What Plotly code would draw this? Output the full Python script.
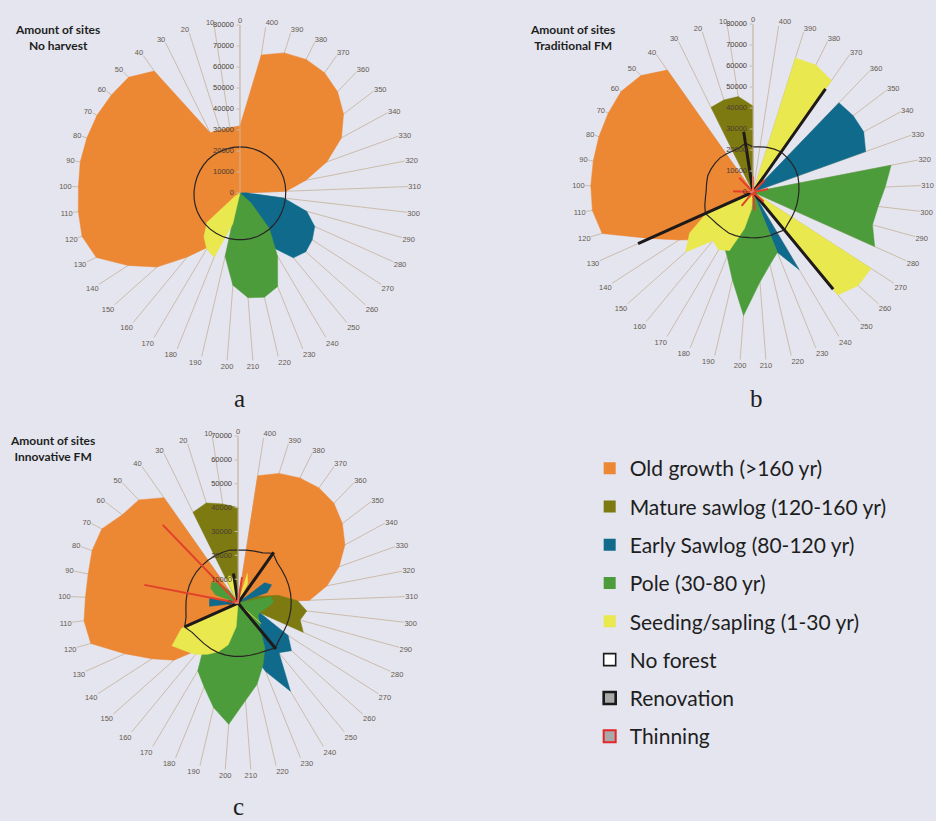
import plotly.graph_objects as go

# Age classes (years) on the angular axis
AGES = ["0", "10", "20", "30", "40", "50", "60", "70", "80", "90",
        "100", "110", "120", "130", "140", "150", "160", "170", "180", "190",
        "200", "210", "220", "230", "240", "250", "260", "270", "280", "290",
        "300", "310", "320", "330", "340", "350", "360", "370", "380", "390",
        "400"]

# ---------------- a: No harvest ----------------
old_a = [32000, 31500, 31500, 32000, 71000, 76500, 77000, 77500, 77500, 77500,
         77000, 77500, 78000, 75000, 63500, 53000, 39500, 30000, 20000, 10000,
         0, 0, 0, 0, 0, 0, 0, 0, 0, 0,
         0, 22000, 32000, 44000, 55000, 62000, 67000, 70000, 71000, 70000,
         66500]
mature_a = [0, 0, 0, 0, 0, 0, 0, 0, 0, 0,
            0, 0, 0, 0, 0, 0, 0, 0, 0, 0,
            0, 0, 0, 0, 0, 0, 0, 0, 0, 0,
            0, 0, 0, 0, 0, 0, 0, 0, 0, 0,
            0]
early_a = [0, 0, 0, 0, 0, 0, 0, 0, 0, 0,
           0, 0, 0, 0, 0, 0, 0, 0, 0, 0,
           0, 0, 0, 15000, 30000, 40000, 42000, 41000, 39000, 33000,
           21000, 3000, 0, 0, 0, 0, 0, 0, 0, 0,
           0]
pole_a = [0, 0, 0, 0, 0, 0, 0, 0, 0, 0,
          0, 0, 0, 0, 0, 0, 0, 0, 3000, 31000,
          44000, 50000, 51000, 48000, 35000, 22000, 7000, 0, 0, 0,
          0, 0, 0, 0, 0, 0, 0, 0, 0, 0,
          0]
seed_a = [0, 0, 0, 0, 0, 0, 0, 0, 0, 0,
          0, 0, 0, 0, 3000, 21000, 27000, 31000, 33000, 15000,
          0, 0, 0, 0, 0, 0, 0, 0, 0, 0,
          0, 0, 0, 0, 0, 0, 0, 0, 0, 0,
          0]
noforest_a = [22000, 22000, 21900, 21900, 22000, 22000, 21900, 21800, 21800, 21800,
              21900, 22000, 22100, 22200, 22200, 22300, 22300, 22300, 22300, 22300,
              22300, 22300, 22300, 22300, 22200, 22200, 22100, 22000, 21900, 21800,
              21800, 21800, 21900, 22000, 22000, 22000, 22000, 22000, 22000, 22000,
              22000]
renov_a = [0, 0, 0, 0, 0, 0, 0, 0, 0, 0,
           0, 0, 0, 0, 0, 0, 0, 0, 0, 0,
           0, 0, 0, 0, 0, 0, 0, 0, 0, 0,
           0, 0, 0, 0, 0, 0, 0, 0, 0, 0,
           0]
thin_a = [0, 0, 0, 0, 0, 0, 0, 0, 0, 0,
          0, 0, 0, 0, 0, 0, 0, 0, 0, 0,
          0, 0, 0, 0, 0, 0, 0, 0, 0, 0,
          0, 0, 0, 0, 0, 0, 0, 0, 0, 0,
          0]

# ---------------- b: Traditional FM ----------------
old_b = [0, 0, 0, 0, 71000, 77000, 79000, 78500, 78000, 77500,
         77300, 77000, 74500, 54000, 42000, 34000, 25000, 15000, 0, 0,
         0, 0, 0, 0, 0, 0, 0, 0, 0, 0,
         0, 0, 0, 0, 0, 0, 0, 0, 0, 0,
         0]
mature_b = [41000, 46000, 46000, 45000, 0, 0, 0, 0, 0, 0,
            0, 0, 0, 0, 0, 0, 0, 0, 0, 0,
            0, 0, 0, 0, 0, 0, 0, 0, 0, 0,
            0, 0, 0, 0, 0, 0, 0, 0, 0, 0,
            0]
early_b = [0, 0, 0, 0, 0, 0, 0, 0, 0, 0,
           0, 0, 0, 0, 0, 0, 0, 0, 0, 0,
           0, 0, 0, 31000, 43000, 0, 0, 0, 0, 0,
           0, 0, 0, 57000, 60000, 60000, 59000, 0, 0, 0,
           0]
pole_b = [0, 0, 0, 0, 0, 0, 0, 0, 0, 0,
          0, 0, 0, 0, 0, 0, 20000, 28000, 33000, 43000,
          59000, 43000, 35500, 31000, 0, 0, 0, 0, 63500, 59000,
          60000, 63000, 67000, 0, 0, 0, 0, 0, 0, 0,
          0]
seed_b = [0, 0, 0, 0, 0, 0, 0, 0, 0, 0,
          0, 0, 0, 24000, 36000, 43000, 30000, 32000, 30000, 18000,
          8000, 0, 0, 0, 0, 63500, 67000, 67000, 0, 0,
          0, 0, 0, 0, 0, 0, 0, 65000, 67500, 67000,
          0]
noforest_b = [21500, 23500, 22000, 21800, 22200, 22600, 22700, 22800, 22900, 22500,
              22300, 22800, 23800, 24900, 23500, 22900, 22600, 22700, 22400, 22100,
              21800, 21900, 22000, 22300, 22500, 23500, 22400, 22000, 21800, 21700,
              21700, 21900, 22200, 22700, 22900, 23000, 23100, 23300, 22800, 22300,
              21800]
renov_b = [0, 29000, 0, 0, 0, 0, 0, 0, 0, 0,
           0, 0, 0, 60000, 0, 0, 0, 0, 0, 0,
           0, 0, 0, 0, 0, 60000, 0, 0, 0, 0,
           0, 0, 0, 0, 0, 0, 0, 60000, 0, 0,
           0]
thin_b = [7500, 0, 0, 0, 0, 9500, 0, 0, 0, 0,
          9500, 0, 0, 0, 0, 0, 8500, 0, 0, 0,
          0, 8800, 0, 0, 0, 0, 6800, 0, 0, 0,
          0, 0, 7400, 0, 0, 0, 8000, 0, 0, 0,
          0]

# ---------------- c: Innovative FM ----------------
old_c = [0, 0, 0, 0, 54000, 60000, 61000, 65000, 65000, 64000,
         64000, 65000, 64000, 52000, 43000, 36000, 25000, 15000, 0, 0,
         0, 0, 0, 0, 0, 0, 0, 0, 0, 0,
         0, 30000, 38000, 45000, 51000, 55000, 58000, 59000, 58500, 57000,
         54000]
mature_c = [40000, 42000, 44000, 42500, 0, 0, 0, 0, 0, 0,
            0, 0, 0, 0, 0, 0, 0, 0, 0, 0,
            0, 0, 0, 0, 0, 0, 0, 0, 30000, 27000,
            29000, 25000, 17000, 8000, 0, 0, 0, 0, 0, 0,
            0]
early_c = [0, 0, 0, 0, 0, 0, 0, 0, 0, 12000,
           12000, 12000, 0, 0, 0, 0, 0, 0, 0, 0,
           0, 0, 20000, 31000, 43000, 27000, 30000, 25000, 10000, 0,
           0, 0, 0, 13000, 16000, 14000, 0, 0, 0, 0,
           0]
pole_c = [0, 0, 0, 0, 6000, 12000, 14000, 13000, 10000, 0,
          0, 0, 0, 0, 0, 0, 22000, 33000, 38000, 45000,
          51000, 41000, 35000, 28000, 22000, 15000, 12000, 10000, 10000, 11000,
          13000, 15000, 14000, 0, 0, 0, 0, 0, 0, 0,
          0]
seed_c = [0, 10000, 12000, 11000, 0, 0, 0, 0, 0, 0,
          0, 0, 0, 26000, 33000, 30000, 28000, 25000, 22000, 18000,
          10000, 0, 0, 0, 0, 0, 13000, 0, 0, 0,
          0, 0, 0, 0, 0, 0, 0, 0, 9000, 13000,
          0]
noforest_c = [22200, 22500, 22200, 22000, 21900, 21800, 21800, 21700, 21700, 21700,
              21800, 22000, 22600, 24500, 22800, 22300, 22200, 22300, 22400, 22400,
              22400, 22400, 22500, 22700, 23200, 24500, 23100, 22600, 22400, 22300,
              22300, 22300, 22400, 22500, 22700, 23000, 23600, 25500, 23500, 22800,
              22400]
renov_c = [0, 12500, 0, 0, 0, 0, 0, 0, 0, 0,
           0, 0, 0, 24500, 0, 0, 0, 0, 0, 0,
           0, 0, 0, 0, 0, 25000, 0, 0, 0, 0,
           0, 0, 0, 0, 0, 0, 0, 26000, 0, 0,
           0]
thin_c = [0, 0, 0, 0, 0, 45500, 0, 0, 0, 40000,
          0, 0, 0, 0, 0, 0, 0, 0, 0, 0,
          0, 0, 0, 0, 0, 0, 0, 0, 0, 0,
          0, 0, 0, 0, 0, 0, 0, 0, 0, 0,
          11000]

SERIES_NAMES = ["Old growth (>160 yr)", "Mature sawlog (120-160 yr)",
                "Early Sawlog (80-120 yr)", "Pole (30-80 yr)",
                "Seeding/sapling (1-30 yr)", "No forest", "Renovation", "Thinning"]
FILL_COLORS = ["#ec8734", "#7d7a12", "#0f6a8c", "#4c9c3c", "#e9e84e"]
SPOKE = "#cbbcab"
LABEL = "#665a52"
BG = "#e4e5ee"

PANELS = [
    ("polar", [old_a, mature_a, early_a, pole_a, seed_a], noforest_a, renov_a, thin_a),
    ("polar2", [old_b, mature_b, early_b, pole_b, seed_b], noforest_b, renov_b, thin_b),
    ("polar3", [old_c, mature_c, early_c, pole_c, seed_c], noforest_c, renov_c, thin_c),
]


def closed(values):
    return list(values) + [values[0]], AGES + [AGES[0]]


fig = go.Figure()

for subplot, fills, nof, renov, thin in PANELS:
    # age-class areas, drawn in legend order
    for name, vals, col in zip(SERIES_NAMES[:5], fills, FILL_COLORS):
        r, th = closed(vals)
        fig.add_trace(go.Scatterpolar(
            r=r, theta=th, subplot=subplot, mode="lines", fill="toself",
            fillcolor=col, line=dict(color=col, width=0.5),
            name=name, showlegend=False, hoverinfo="skip"))
    # treatment lines
    for vals, col, w in ((nof, "#2a2424", 1.2), (renov, "#1e1a1a", 3.0), (thin, "#e2402a", 2.0)):
        r, th = closed(vals)
        fig.add_trace(go.Scatterpolar(
            r=r, theta=th, subplot=subplot, mode="lines",
            line=dict(color=col, width=w), showlegend=False, hoverinfo="skip"))

# legend entries
LEGEND_STYLE = [
    (FILL_COLORS[0], FILL_COLORS[0], 0),
    (FILL_COLORS[1], FILL_COLORS[1], 0),
    (FILL_COLORS[2], FILL_COLORS[2], 0),
    (FILL_COLORS[3], FILL_COLORS[3], 0),
    (FILL_COLORS[4], FILL_COLORS[4], 0),
    ("#ffffff", "#1a1a1a", 1.6),
    ("#a9a9a9", "#1a1a1a", 2.6),
    ("#a9a9a9", "#e2262a", 2.0),
]
for i, (name, (fc, lc, lw)) in enumerate(zip(SERIES_NAMES, LEGEND_STYLE)):
    fig.add_trace(go.Scatterpolar(
        r=[None], theta=[None], subplot="polar", mode="markers", name=name,
        legendgroup=f"g{i}", showlegend=True,
        marker=dict(symbol="square", size=12, color=fc, line=dict(color=lc, width=lw))))


def polar_axes(domx, domy, rmax):
    return dict(
        domain=dict(x=domx, y=domy),
        bgcolor="rgba(0,0,0,0)",
        angularaxis=dict(
            type="category", categoryorder="array", categoryarray=AGES,
            direction="counterclockwise", rotation=90,
            showgrid=True, gridcolor=SPOKE, gridwidth=0.8,
            showline=False, ticks="",
            tickmode="array", tickvals=AGES, ticktext=AGES,
            tickfont=dict(family="Liberation Sans", size=7.5, color=LABEL)),
        radialaxis=dict(
            range=[0, rmax], dtick=10000, tickformat="d", angle=90,
            side="counterclockwise", tickangle=90,
            showgrid=False, showline=True, linecolor=SPOKE, linewidth=0.8,
            ticks="outside", ticklen=3, tickcolor=SPOKE,
            tickfont=dict(family="Liberation Sans", size=7.5, color="#4a3c34")),
    )


fig.update_layout(
    width=936, height=821,
    margin=dict(l=0, r=0, t=0, b=0),
    paper_bgcolor=BG, plot_bgcolor=BG,
    polar=polar_axes([0.0769, 0.4359], [0.5603, 0.9695], 80000),
    polar2=polar_axes([0.6250, 0.9840], [0.5615, 0.9707], 80000),
    polar3=polar_axes([0.0759, 0.4327], [0.0621, 0.4689], 70000),
    legend=dict(x=0.63, y=0.4543, xanchor="left", yanchor="top",
                bgcolor="rgba(0,0,0,0)", traceorder="grouped", tracegroupgap=8,
                font=dict(family="Lato", size=21, color="#1e1e1e"),
                itemsizing="trace"),
    showlegend=True,
)

TITLE_FONT = dict(family="Lato", size=12, color="#1e1e1e")
titles = [
    (57, 37, "<b>Amount of sites</b><br><b>No harvest</b>"),
    (572, 37, "<b>Amount of sites</b><br><b>Traditional FM</b>"),
    (52, 448, "<b>Amount of sites</b><br><b>Innovative FM</b>"),
]
for x, y, txt in titles:
    fig.add_annotation(x=x / 936, y=1 - y / 821, xref="paper", yref="paper",
                       text=txt, showarrow=False, font=TITLE_FONT, align="center",
                       xanchor="center", yanchor="middle")

for x, y, txt in ((240, 398, "a"), (756, 398, "b"), (238, 806, "c")):
    fig.add_annotation(x=x / 936, y=1 - y / 821, xref="paper", yref="paper",
                       text=txt, showarrow=False,
                       font=dict(family="Liberation Serif", size=25, color="#1e1e1e"),
                       xanchor="center", yanchor="middle")

fig.write_html("out.html")
